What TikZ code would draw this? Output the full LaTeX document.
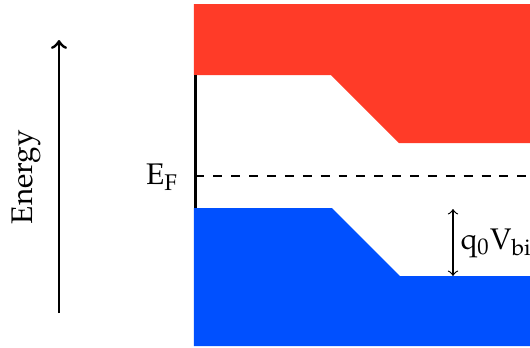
\documentclass[tikz,border=0pt]{standalone}
\usepackage[T1]{fontenc}
\usepackage{mathpazo}
\usetikzlibrary{calc}
\definecolor{cbred}{RGB}{255,59,40}
\definecolor{vbblue}{RGB}{0,80,255}
\tikzstyle{lbl}=[inner sep=1pt]
\tikzstyle{edge}=[line width=0.8pt]

\begin{document}
\begin{tikzpicture}[x=0.0118cm, y=-0.0118cm]
\useasboundingbox (0,0) rectangle (530,348);
% bands
\fill[cbred] (194,4) -- (530,4) -- (530,143) -- (399,143) -- (331,75) -- (194,75) -- cycle;
\fill[vbblue] (194,208) -- (332,208) -- (400,276) -- (530,276) -- (530,346) -- (194,346) -- cycle;
%
\draw (195.5,75) coordinate (cb) (195.5,208) coordinate (vb);
\draw[edge] (cb)--(vb);
\draw (195.5,176) coordinate (ef) (530,176) coordinate (efr);
\draw[dashed, thin] (ef)--(efr);
\draw (182,177) node[lbl, left] (EF) {$\mathrm{E_F}$};
%
\draw (59,313) coordinate (e0) (59,40) coordinate (e1);
\draw[edge, line width=1pt, ->] (e0)--(e1);
\draw (26,177) node[lbl, rotate=90] (en) {Energy};
%
\draw (453,209) coordinate (v0) (453,276) coordinate (v1);
\draw[<->] (v0)--(v1);
\draw (v0)+(4,34) node[lbl, right] (vbi) {$\mathrm{q_0V_{bi}}$};
\end{tikzpicture}
\end{document}
